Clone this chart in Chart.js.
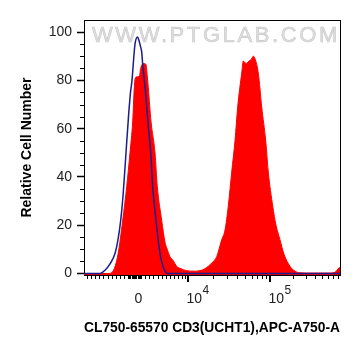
<!DOCTYPE html>
<html>
<head>
<meta charset="utf-8">
<script src="https://cdn.jsdelivr.net/npm/chart.js@4"></script>
<style>
  html, body { margin: 0; padding: 0; background: #fff; }
  #wrap { width: 363px; height: 356px; position: relative; }
</style>
</head>
<body>
<div id="wrap"><canvas id="c"></canvas></div>
<script>
// ---- Data (x in display channels of the biexponential axis, 0..256) ----
const redX = [0, 24, 29, 34, 38.7, 42.7, 46, 48.7, 50.3, 51.3, 53.5, 55.5, 56.7, 58, 60, 62, 63.2, 64.3, 67, 71, 73.3, 77.7, 81, 83.3, 86, 89, 92.7, 97, 102.7, 109, 116, 120, 124.3, 128, 132.7, 137.7, 141, 144.3, 147.7, 151, 153.7, 157.7, 159.3, 162, 165, 167, 169.3, 171, 174.3, 177.7, 181.7, 184.3, 188.7, 192, 196, 200, 206, 211, 216, 226, 246, 252, 254, 256];
const redY = [0, 0, 1, 8, 22, 36, 50, 63, 77, 81, 81.5, 82, 85, 86.5, 87, 86.5, 82, 77, 63, 50, 36, 22, 13, 10, 7, 5.5, 3, 2, 1.2, 1, 1.2, 1.8, 3, 4.5, 7, 14, 18, 28, 42, 55, 69, 83, 88, 87, 88, 88.5, 90, 89, 83, 69, 55, 42, 28, 20, 14, 8, 3, 1, 0.3, 0.2, 0.2, 0.8, 2, 2.5];

const blueX = [0, 16, 21, 26, 31, 34, 36.7, 39, 42, 44.5, 46.5, 48, 49.5, 51, 53.5, 55, 56.5, 57.7, 59, 61, 63.7, 66.7, 68.7, 72, 76, 79, 81, 84, 256];
const blueY = [0, 0, 1.4, 4, 8.3, 14, 22, 32, 50, 65, 75, 80, 88, 95, 98, 96.5, 94, 91.7, 85, 77.7, 64, 50, 36, 22, 8.3, 3, 1, 0, 0];

// ---- Tick values / labels ----
const xTickValues = [54.5, 104, 186];
const xTickBase = ["0", "10", "10"];
const xTickExp = ["", "4", "5"];
const xMajorTicks = [104, 186];
const xMinorTicks = [2.7, 7, 11, 15.3, 19.3, 23.7, 27.7, 32, 36, 40.3,
  44, 45.2, 46.4, 47.6, 48.8, 50, 51.2, 52.4, 53.6, 54.8, 56,
  57, 61, 65.3, 69.3, 73.7, 77.7, 82, 86, 90.3, 94.3, 97.7, 101,
  128.7, 143.1, 153.4, 161.3, 167.8, 173.3, 178.1, 182.2,
  208.6, 221.8, 231.2, 238.4, 244.4, 249.4, 253.7];
const yTickValues = [0, 20, 40, 60, 80, 100];
const yMinorTicks = [5, 10, 15, 25, 30, 35, 45, 50, 55, 65, 70, 75, 85, 90, 95];

const xTitle = "CL750-65570 CD3(UCHT1),APC-A750-A";
const yTitle = "Relative Cell Number";
const watermark = "WWW.PTGLAB.COM";

const FONT = '"Liberation Sans", Arial, sans-serif';

const toPoints = (xs, ys) => xs.map((v, i) => ({ x: v, y: ys[i] }));

const decor = {
  id: 'decor',
  beforeDatasetsDraw(chart) {
    const { ctx, chartArea: a } = chart;
    ctx.save();
    ctx.font = '22px ' + FONT;
    ctx.letterSpacing = '2.6px';
    ctx.textAlign = 'left';
    ctx.textBaseline = 'alphabetic';
    ctx.fillStyle = 'rgba(222,222,222,1)';
    ctx.strokeStyle = 'rgba(200,200,200,1)';
    ctx.lineWidth = 0.6;
    ctx.fillText(watermark, a.left + 8, a.top + 22);
    ctx.strokeText(watermark, a.left + 8, a.top + 22);
    ctx.restore();
  },
  afterDraw(chart) {
    const { ctx, chartArea: a, scales: { x, y } } = chart;
    ctx.save();
    ctx.strokeStyle = '#000';
    // top and right frame
    ctx.lineWidth = 1;
    ctx.beginPath();
    ctx.moveTo(a.left, a.top + 0.5);
    ctx.lineTo(a.right + 0.5, a.top + 0.5);
    ctx.moveTo(a.right + 0.5, a.top);
    ctx.lineTo(a.right + 0.5, a.bottom);
    ctx.stroke();
    // x minor ticks
    ctx.beginPath();
    xMinorTicks.forEach(v => {
      const px = Math.round(x.getPixelForValue(v)) + 0.5;
      ctx.moveTo(px, a.bottom);
      ctx.lineTo(px, a.bottom + 4);
    });
    ctx.stroke();
    // x major ticks
    ctx.lineWidth = 2;
    ctx.beginPath();
    xMajorTicks.forEach(v => {
      const px = Math.round(x.getPixelForValue(v));
      ctx.moveTo(px, a.bottom);
      ctx.lineTo(px, a.bottom + 7);
    });
    ctx.stroke();
    // y minor ticks
    ctx.lineWidth = 1;
    ctx.beginPath();
    yMinorTicks.forEach(v => {
      const py = Math.round(y.getPixelForValue(v)) + 0.5;
      ctx.moveTo(a.left - 4, py);
      ctx.lineTo(a.left, py);
    });
    ctx.stroke();
    // x tick labels with superscripts
    ctx.fillStyle = '#222';
    ctx.textBaseline = 'alphabetic';
    xTickValues.forEach((v, i) => {
      const px = x.getPixelForValue(v);
      ctx.font = '14px ' + FONT;
      if (!xTickExp[i]) {
        ctx.textAlign = 'center';
        ctx.fillText(xTickBase[i], px, a.bottom + 28);
      } else {
        ctx.textAlign = 'left';
        const bx = px - 1.5;
        ctx.fillText(xTickBase[i], bx, a.bottom + 28);
        const w = ctx.measureText(xTickBase[i]).width;
        ctx.font = '12px ' + FONT;
        ctx.fillText(xTickExp[i], bx + w + 0.5, a.bottom + 18.5);
      }
    });
    ctx.restore();
  }
};

new Chart(document.getElementById('c'), {
  type: 'line',
  data: {
    datasets: [
      {
        label: 'Isotype',
        data: toPoints(blueX, blueY),
        borderColor: '#1c1c8e',
        borderWidth: 1.5,
        fill: false,
        pointRadius: 0,
        cubicInterpolationMode: 'monotone',
        order: 0
      },
      {
        label: 'CD3',
        data: toPoints(redX, redY),
        borderColor: '#ff0000',
        backgroundColor: '#ff0000',
        borderWidth: 1,
        fill: 'start',
        pointRadius: 0,
        cubicInterpolationMode: 'monotone',
        order: 1
      }
    ]
  },
  options: {
    responsive: true,
    maintainAspectRatio: false,
    animation: false,
    layout: { padding: { left: 0, right: 23, top: 20, bottom: 0 } },
    plugins: { legend: { display: false }, tooltip: { enabled: false } },
    scales: {
      x: {
        type: 'linear',
        min: 0,
        max: 256,
        grid: { display: false },
        border: { display: true, color: '#000', width: 1 },
        ticks: { display: false },
        afterFit(scale) { scale.height = 81; },
        title: {
          display: true,
          text: xTitle,
          color: '#000',
          font: { family: FONT, size: 14, weight: 'bold' },
          padding: { top: 0, bottom: 19 }
        }
      },
      y: {
        type: 'linear',
        min: -0.6,
        max: 105,
        afterBuildTicks(scale) { scale.ticks = yTickValues.map(v => ({ value: v })); },
        grid: { display: true, drawOnChartArea: false, color: '#000', tickLength: 7, tickWidth: 1.5 },
        border: { display: true, color: '#000', width: 1 },
        ticks: { color: '#222', font: { family: FONT, size: 14 }, padding: 5 },
        afterFit(scale) { scale.width = 84; },
        title: {
          display: true,
          text: yTitle,
          color: '#000',
          font: { family: FONT, size: 14, weight: 'bold' },
          padding: { top: 18.5, bottom: 0 }
        }
      }
    }
  },
  plugins: [decor]
});
</script>
</body>
</html>
